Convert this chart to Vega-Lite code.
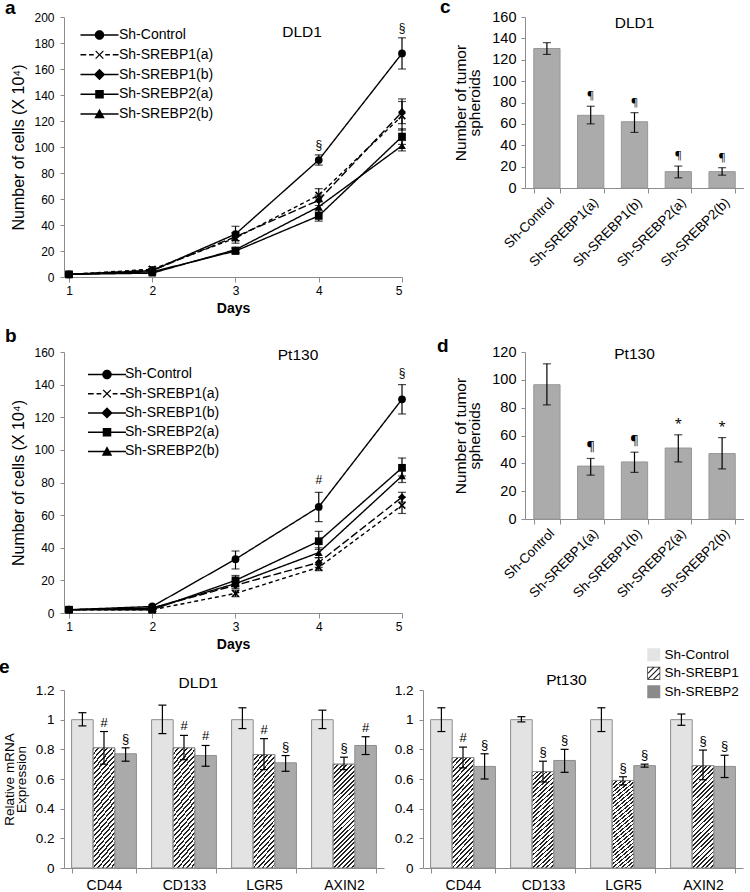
{
"$schema": "https://vega.github.io/schema/vega-lite/v6.json",
"padding": {"left": -1, "top": -2, "right": 0, "bottom": 0},
"config": {
  "font": "Liberation Sans",
  "view": {"stroke": null},
  "axis": {"domainColor": "#8c8c8c", "tickColor": "#8c8c8c", "labelColor": "#000", "titleColor": "#000", "grid": false, "titleFontWeight": "normal", "labelOverlap": false},
  "title": {"fontSize": 19, "fontWeight": "bold", "anchor": "start", "frame": "group", "color": "#000"},
  "legend": {"labelColor": "#000"},
  "text": {"color": "#000"}
},
"resolve": {"scale": {"fill": "independent", "shape": "independent", "strokeDash": "independent"}},
"vconcat": [
 {"vconcat": [
  {"hconcat": [
   {
    "width": 338, "height": 260,
    "title": {"text": "DLD1", "anchor": "middle", "dx": 69, "offset": -29, "fontSize": 15.5, "fontWeight": "normal"},
    "data": {"values": [
      {"s":"Sh-Control","d":1,"v":2,"lo":1,"hi":3},
      {"s":"Sh-Control","d":2,"v":5,"lo":4,"hi":6},
      {"s":"Sh-Control","d":3,"v":33,"lo":28,"hi":39},
      {"s":"Sh-Control","d":4,"v":90,"lo":86,"hi":94,"sig":"§"},
      {"s":"Sh-Control","d":5,"v":172,"lo":160,"hi":184,"sig":"§"},
      {"s":"Sh-SREBP1(a)","d":1,"v":2,"lo":1,"hi":3},
      {"s":"Sh-SREBP1(a)","d":2,"v":6,"lo":4,"hi":8},
      {"s":"Sh-SREBP1(a)","d":3,"v":30,"lo":26,"hi":34},
      {"s":"Sh-SREBP1(a)","d":4,"v":63,"lo":58,"hi":68},
      {"s":"Sh-SREBP1(a)","d":5,"v":124,"lo":113,"hi":135},
      {"s":"Sh-SREBP1(b)","d":1,"v":2,"lo":1,"hi":3},
      {"s":"Sh-SREBP1(b)","d":2,"v":5,"lo":4,"hi":6},
      {"s":"Sh-SREBP1(b)","d":3,"v":31,"lo":28,"hi":34},
      {"s":"Sh-SREBP1(b)","d":4,"v":59,"lo":55,"hi":63},
      {"s":"Sh-SREBP1(b)","d":5,"v":127,"lo":118,"hi":137},
      {"s":"Sh-SREBP2(a)","d":1,"v":2,"lo":1,"hi":3},
      {"s":"Sh-SREBP2(a)","d":2,"v":4,"lo":3,"hi":5},
      {"s":"Sh-SREBP2(a)","d":3,"v":20,"lo":18,"hi":22},
      {"s":"Sh-SREBP2(a)","d":4,"v":47,"lo":43,"hi":51},
      {"s":"Sh-SREBP2(a)","d":5,"v":108,"lo":102,"hi":114},
      {"s":"Sh-SREBP2(b)","d":1,"v":2,"lo":1,"hi":3},
      {"s":"Sh-SREBP2(b)","d":2,"v":3,"lo":2,"hi":4},
      {"s":"Sh-SREBP2(b)","d":3,"v":21,"lo":19,"hi":23},
      {"s":"Sh-SREBP2(b)","d":4,"v":54,"lo":50,"hi":58},
      {"s":"Sh-SREBP2(b)","d":5,"v":101,"lo":97,"hi":105}
    ]},
    "encoding": {
      "x": {"field": "d", "type": "quantitative", "scale": {"domain": [0.94, 5], "nice": false, "zero": false},
            "axis": {"values": [1,2,3,4,5], "format": "d", "title": "Days", "titleFontWeight": "bold", "titleFontSize": 14, "labelFontSize": 12, "tickSize": 5, "labelPadding": 3, "titlePadding": 5}}
    },
    "layer": [
      {"mark": {"type": "errorbar", "color": "#000", "thickness": 1.2, "ticks": {"size": 8, "thickness": 1.2}},
       "encoding": {
        "y": {"field": "lo", "type": "quantitative", "scale": {"domain": [0, 200], "nice": false}, "title": "Number of cells (X 10⁴)",
              "axis": {"values": [0,20,40,60,80,100,120,140,160,180,200], "labelOverlap": false, "labelFontSize": 12, "tickSize": 4, "labelPadding": 6, "titlePadding": 7, "titleFontSize": 16}},
        "y2": {"field": "hi"}}},
      {"mark": {"type": "line", "color": "#000", "strokeWidth": 1.4},
       "encoding": {
        "y": {"field": "v", "type": "quantitative", "scale": {"domain": [0, 200], "nice": false}, "title": "Number of cells (X 10⁴)",
              "axis": {"values": [0,20,40,60,80,100,120,140,160,180,200], "labelOverlap": false, "labelFontSize": 12, "tickSize": 4, "labelPadding": 6, "titlePadding": 7, "titleFontSize": 16}},
        "strokeDash": {"field": "s", "type": "nominal", "scale": {"domain": ["Sh-Control","Sh-SREBP1(a)","Sh-SREBP1(b)","Sh-SREBP2(a)","Sh-SREBP2(b)"], "range": [[1,0],[4,3],[8,3],[1,0],[1,0]]}, "legend": null}}},
      {"mark": {"type": "point", "filled": true, "color": "#000", "opacity": 1, "size": 60},
       "encoding": {
        "y": {"field": "v", "type": "quantitative", "scale": {"domain": [0, 200], "nice": false}, "title": "Number of cells (X 10⁴)",
              "axis": {"values": [0,20,40,60,80,100,120,140,160,180,200], "labelOverlap": false, "labelFontSize": 12, "tickSize": 4, "labelPadding": 6, "titlePadding": 7, "titleFontSize": 16}},
        "shape": {"field": "s", "type": "nominal", "scale": {"domain": ["Sh-Control","Sh-SREBP1(a)","Sh-SREBP1(b)","Sh-SREBP2(a)","Sh-SREBP2(b)"], "range": ["circle","M-0.7,-1L0,-0.3L0.7,-1L1,-0.7L0.3,0L1,0.7L0.7,1L0,0.3L-0.7,1L-1,0.7L-0.3,0L-1,-0.7Z","diamond","square","triangle-up"]}, "legend": null}}},
      {"transform": [{"filter": "datum.sig"}],
       "mark": {"type": "text", "fontSize": 12, "dy": -6, "baseline": "alphabetic"},
       "encoding": {
        "y": {"field": "hi", "type": "quantitative", "scale": {"domain": [0, 200], "nice": false}, "title": "Number of cells (X 10⁴)",
              "axis": {"values": [0,20,40,60,80,100,120,140,160,180,200], "labelOverlap": false, "labelFontSize": 12, "tickSize": 4, "labelPadding": 6, "titlePadding": 7, "titleFontSize": 16}},
        "text": {"field": "sig"}}},
      {"data": {"values": []},
       "mark": {"type": "point", "filled": true, "color": "#000", "opacity": 1},
       "encoding": {
        "shape": {"field": "s", "type": "nominal",
          "scale": {"domain": ["Sh-Control","Sh-SREBP1(a)","Sh-SREBP1(b)","Sh-SREBP2(a)","Sh-SREBP2(b)"],
            "range": [
              "M-2,-0.08L2,-0.08L2,0.08L-2,0.08ZM-0.5,0A0.5,0.5 0 1,1 0.5,0A0.5,0.5 0 1,1 -0.5,0Z",
              "M-2,-0.08L-1.4,-0.08L-1.4,0.08L-2,0.08ZM-1.1,-0.08L-0.6,-0.08L-0.6,0.08L-1.1,0.08ZM0.6,-0.08L1.1,-0.08L1.1,0.08L0.6,0.08ZM1.4,-0.08L2,-0.08L2,0.08L1.4,0.08ZM-0.36,-0.45L0,-0.09L0.36,-0.45L0.45,-0.36L0.09,0L0.45,0.36L0.36,0.45L0,0.09L-0.36,0.45L-0.45,0.36L-0.09,0L-0.45,-0.36Z",
              "M-2,-0.08L2,-0.08L2,0.08L-2,0.08ZM0,-0.6L0.6,0L0,0.6L-0.6,0Z",
              "M-2,-0.08L2,-0.08L2,0.08L-2,0.08ZM-0.45,-0.45L0.45,-0.45L0.45,0.45L-0.45,0.45Z",
              "M-2,-0.08L2,-0.08L2,0.08L-2,0.08ZM0,-0.55L0.55,0.45L-0.55,0.45Z"
            ]},
          "legend": {"orient": "none", "legendX": 26, "legendY": 8.5, "title": null, "padding": 0, "symbolSize": 361, "symbolFillColor": "#000", "symbolStrokeWidth": 0, "symbolOpacity": 1, "labelFontSize": 14, "labelOffset": 10, "rowPadding": 2.75}}}}
    ],
    "resolve": {"scale": {"shape": "independent"}}
   },
   {
    "width": 219, "height": 171,
    "title": {"text": "c", "dx": -85, "offset": -8},
    "data": {"values": [
      {"n":"Sh-Control","v":130.5,"lo":125,"hi":136},
      {"n":"Sh-SREBP1(a)","v":68,"lo":60,"hi":76.5,"sig":"¶"},
      {"n":"Sh-SREBP1(b)","v":62,"lo":52,"hi":70.5,"sig":"¶"},
      {"n":"Sh-SREBP2(a)","v":15.3,"lo":9.5,"hi":20.5,"sig":"¶"},
      {"n":"Sh-SREBP2(b)","v":15.3,"lo":12,"hi":19,"sig":"¶"}
    ]},
    "encoding": {
      "x": {"field": "n", "type": "nominal", "sort": null, "scale": {"paddingInner": 0.4, "paddingOuter": 0.2},
            "axis": {"labelAngle": -45, "labelFontSize": 13.5, "tickSize": 5, "tickBand": "extent", "title": null, "labelPadding": 2}}
    },
    "layer": [
      {"mark": {"type": "bar", "color": "#ababab", "stroke": "#979797", "strokeWidth": 1},
       "encoding": {"y": {"field": "v", "type": "quantitative", "scale": {"domain": [0, 160], "nice": false}, "title": ["Number of tumor", "spheroids"],
          "axis": {"values": [0,20,40,60,80,100,120,140,160], "labelOverlap": false, "labelFontSize": 14.5, "tickSize": 4, "labelPadding": 5, "titlePadding": 9, "titleFontSize": 15.5, "titleLineHeight": 14}}}},
      {"mark": {"type": "errorbar", "color": "#000", "thickness": 1.2, "ticks": {"size": 8, "thickness": 1.2}},
       "encoding": {"y": {"field": "lo", "type": "quantitative", "scale": {"domain": [0, 160], "nice": false}, "title": ["Number of tumor", "spheroids"],
          "axis": {"values": [0,20,40,60,80,100,120,140,160], "labelOverlap": false, "labelFontSize": 14.5, "tickSize": 4, "labelPadding": 5, "titlePadding": 9, "titleFontSize": 15.5, "titleLineHeight": 14}}, "y2": {"field": "hi"}}},
      {"transform": [{"filter": "datum.sig"}],
       "mark": {"type": "text", "fontSize": 11, "dy": -7, "baseline": "alphabetic", "font": "Noto Sans", "color": "#000", "fill": "#000"},
       "encoding": {"y": {"field": "hi", "type": "quantitative", "scale": {"domain": [0, 160], "nice": false}, "title": ["Number of tumor", "spheroids"],
          "axis": {"values": [0,20,40,60,80,100,120,140,160], "labelOverlap": false, "labelFontSize": 14.5, "tickSize": 4, "labelPadding": 5, "titlePadding": 9, "titleFontSize": 15.5, "titleLineHeight": 14}}, "text": {"field": "sig"}}},
      {"data": {"values": [{"t": "DLD1"}]},
       "mark": {"type": "text", "fontSize": 15.5},
       "encoding": {"x": {"datum": "Sh-SREBP1(b)"}, "y": {"datum": 154.4, "type": "quantitative", "scale": {"domain": [0, 160], "nice": false}, "title": ["Number of tumor", "spheroids"],
          "axis": {"values": [0,20,40,60,80,100,120,140,160], "labelOverlap": false, "labelFontSize": 14.5, "tickSize": 4, "labelPadding": 5, "titlePadding": 9, "titleFontSize": 15.5, "titleLineHeight": 14}}, "text": {"field": "t"}}}
    ]
   }
  ], "spacing": 123, "bounds": "flush", "title": {"text": "a", "dx": -59, "offset": -20},
  "resolve": {"scale": {"fill": "independent", "shape": "independent", "strokeDash": "independent"}}},
  {"hconcat": [
   {
    "width": 338, "height": 261,
    "title": {"text": "Pt130", "anchor": "middle", "dx": 65, "offset": -17.5, "fontSize": 15.5, "fontWeight": "normal"},
    "data": {"values": [
      {"s":"Sh-Control","d":1,"v":2,"lo":1,"hi":3},
      {"s":"Sh-Control","d":2,"v":4,"lo":3,"hi":5},
      {"s":"Sh-Control","d":3,"v":33,"lo":27,"hi":38},
      {"s":"Sh-Control","d":4,"v":65,"lo":56,"hi":74,"sig":"#"},
      {"s":"Sh-Control","d":5,"v":131,"lo":122,"hi":140,"sig":"§"},
      {"s":"Sh-SREBP1(a)","d":1,"v":2,"lo":1,"hi":3},
      {"s":"Sh-SREBP1(a)","d":2,"v":2,"lo":1,"hi":3},
      {"s":"Sh-SREBP1(a)","d":3,"v":12,"lo":10,"hi":14},
      {"s":"Sh-SREBP1(a)","d":4,"v":28,"lo":26,"hi":30},
      {"s":"Sh-SREBP1(a)","d":5,"v":66,"lo":61,"hi":71},
      {"s":"Sh-SREBP1(b)","d":1,"v":2,"lo":1,"hi":3},
      {"s":"Sh-SREBP1(b)","d":2,"v":3,"lo":2,"hi":4},
      {"s":"Sh-SREBP1(b)","d":3,"v":17,"lo":15,"hi":19},
      {"s":"Sh-SREBP1(b)","d":4,"v":31,"lo":28,"hi":34},
      {"s":"Sh-SREBP1(b)","d":5,"v":71,"lo":68,"hi":74},
      {"s":"Sh-SREBP2(a)","d":1,"v":2,"lo":1,"hi":3},
      {"s":"Sh-SREBP2(a)","d":2,"v":2,"lo":1,"hi":3},
      {"s":"Sh-SREBP2(a)","d":3,"v":20,"lo":17,"hi":23},
      {"s":"Sh-SREBP2(a)","d":4,"v":44,"lo":39,"hi":50},
      {"s":"Sh-SREBP2(a)","d":5,"v":89,"lo":84,"hi":95},
      {"s":"Sh-SREBP2(b)","d":1,"v":2,"lo":1,"hi":3},
      {"s":"Sh-SREBP2(b)","d":2,"v":3,"lo":2,"hi":4},
      {"s":"Sh-SREBP2(b)","d":3,"v":18,"lo":16,"hi":20},
      {"s":"Sh-SREBP2(b)","d":4,"v":37,"lo":34,"hi":40},
      {"s":"Sh-SREBP2(b)","d":5,"v":84,"lo":80,"hi":88}
    ]},
    "encoding": {
      "x": {"field": "d", "type": "quantitative", "scale": {"domain": [0.94, 5], "nice": false, "zero": false},
            "axis": {"values": [1,2,3,4,5], "format": "d", "title": "Days", "titleFontWeight": "bold", "titleFontSize": 14, "labelFontSize": 12, "tickSize": 5, "labelPadding": 3, "titlePadding": 5}}
    },
    "layer": [
      {"mark": {"type": "errorbar", "color": "#000", "thickness": 1.2, "ticks": {"size": 8, "thickness": 1.2}},
       "encoding": {
        "y": {"field": "lo", "type": "quantitative", "scale": {"domain": [0, 160], "nice": false}, "title": "Number of cells (X 10⁴)",
              "axis": {"values": [0,20,40,60,80,100,120,140,160], "labelOverlap": false, "labelFontSize": 12, "tickSize": 4, "labelPadding": 6, "titlePadding": 7, "titleFontSize": 16}},
        "y2": {"field": "hi"}}},
      {"mark": {"type": "line", "color": "#000", "strokeWidth": 1.4},
       "encoding": {
        "y": {"field": "v", "type": "quantitative", "scale": {"domain": [0, 160], "nice": false}, "title": "Number of cells (X 10⁴)",
              "axis": {"values": [0,20,40,60,80,100,120,140,160], "labelOverlap": false, "labelFontSize": 12, "tickSize": 4, "labelPadding": 6, "titlePadding": 7, "titleFontSize": 16}},
        "strokeDash": {"field": "s", "type": "nominal", "scale": {"domain": ["Sh-Control","Sh-SREBP1(a)","Sh-SREBP1(b)","Sh-SREBP2(a)","Sh-SREBP2(b)"], "range": [[1,0],[4,3],[8,3],[1,0],[1,0]]}, "legend": null}}},
      {"mark": {"type": "point", "filled": true, "color": "#000", "opacity": 1, "size": 60},
       "encoding": {
        "y": {"field": "v", "type": "quantitative", "scale": {"domain": [0, 160], "nice": false}, "title": "Number of cells (X 10⁴)",
              "axis": {"values": [0,20,40,60,80,100,120,140,160], "labelOverlap": false, "labelFontSize": 12, "tickSize": 4, "labelPadding": 6, "titlePadding": 7, "titleFontSize": 16}},
        "shape": {"field": "s", "type": "nominal", "scale": {"domain": ["Sh-Control","Sh-SREBP1(a)","Sh-SREBP1(b)","Sh-SREBP2(a)","Sh-SREBP2(b)"], "range": ["circle","M-0.7,-1L0,-0.3L0.7,-1L1,-0.7L0.3,0L1,0.7L0.7,1L0,0.3L-0.7,1L-1,0.7L-0.3,0L-1,-0.7Z","diamond","square","triangle-up"]}, "legend": null}}},
      {"transform": [{"filter": "datum.sig"}],
       "mark": {"type": "text", "fontSize": 12, "dy": -8, "baseline": "alphabetic"},
       "encoding": {
        "y": {"field": "hi", "type": "quantitative", "scale": {"domain": [0, 160], "nice": false}, "title": "Number of cells (X 10⁴)",
              "axis": {"values": [0,20,40,60,80,100,120,140,160], "labelOverlap": false, "labelFontSize": 12, "tickSize": 4, "labelPadding": 6, "titlePadding": 7, "titleFontSize": 16}},
        "text": {"field": "sig"}}},
      {"data": {"values": []},
       "mark": {"type": "point", "filled": true, "color": "#000", "opacity": 1},
       "encoding": {
        "shape": {"field": "s", "type": "nominal",
          "scale": {"domain": ["Sh-Control","Sh-SREBP1(a)","Sh-SREBP1(b)","Sh-SREBP2(a)","Sh-SREBP2(b)"],
            "range": [
              "M-2,-0.08L2,-0.08L2,0.08L-2,0.08ZM-0.5,0A0.5,0.5 0 1,1 0.5,0A0.5,0.5 0 1,1 -0.5,0Z",
              "M-2,-0.08L-1.4,-0.08L-1.4,0.08L-2,0.08ZM-1.1,-0.08L-0.6,-0.08L-0.6,0.08L-1.1,0.08ZM0.6,-0.08L1.1,-0.08L1.1,0.08L0.6,0.08ZM1.4,-0.08L2,-0.08L2,0.08L1.4,0.08ZM-0.36,-0.45L0,-0.09L0.36,-0.45L0.45,-0.36L0.09,0L0.45,0.36L0.36,0.45L0,0.09L-0.36,0.45L-0.45,0.36L-0.09,0L-0.45,-0.36Z",
              "M-2,-0.08L2,-0.08L2,0.08L-2,0.08ZM0,-0.6L0.6,0L0,0.6L-0.6,0Z",
              "M-2,-0.08L2,-0.08L2,0.08L-2,0.08ZM-0.45,-0.45L0.45,-0.45L0.45,0.45L-0.45,0.45Z",
              "M-2,-0.08L2,-0.08L2,0.08L-2,0.08ZM0,-0.55L0.55,0.45L-0.55,0.45Z"
            ]},
          "legend": {"orient": "none", "legendX": 33.5, "legendY": 12.9, "title": null, "padding": 0, "symbolSize": 361, "symbolFillColor": "#000", "symbolStrokeWidth": 0, "symbolOpacity": 1, "labelFontSize": 14, "labelOffset": 8.5, "rowPadding": 2.25}}}}
    ],
    "resolve": {"scale": {"shape": "independent"}}
   },
   {
    "width": 219, "height": 167,
    "title": {"text": "d", "dx": -88, "offset": -12},
    "data": {"values": [
      {"n":"Sh-Control","v":96.5,"lo":82,"hi":111.5},
      {"n":"Sh-SREBP1(a)","v":38,"lo":31.5,"hi":43.5,"sig":"¶"},
      {"n":"Sh-SREBP1(b)","v":41,"lo":33.5,"hi":48,"sig":"¶"},
      {"n":"Sh-SREBP2(a)","v":51,"lo":41,"hi":60.5,"sig":"*"},
      {"n":"Sh-SREBP2(b)","v":47,"lo":36,"hi":58.5,"sig":"*"}
    ]},
    "encoding": {
      "x": {"field": "n", "type": "nominal", "sort": null, "scale": {"paddingInner": 0.4, "paddingOuter": 0.2},
            "axis": {"labelAngle": -45, "labelFontSize": 13.5, "tickSize": 5, "tickBand": "extent", "title": null, "labelPadding": 2}}
    },
    "layer": [
      {"mark": {"type": "bar", "color": "#ababab", "stroke": "#979797", "strokeWidth": 1},
       "encoding": {"y": {"field": "v", "type": "quantitative", "scale": {"domain": [0, 120], "nice": false}, "title": ["Number of tumor", "spheroids"],
          "axis": {"values": [0,20,40,60,80,100,120], "labelOverlap": false, "labelFontSize": 14.5, "tickSize": 4, "labelPadding": 5, "titlePadding": 9, "titleFontSize": 15.5, "titleLineHeight": 14}}}},
      {"mark": {"type": "errorbar", "color": "#000", "thickness": 1.2, "ticks": {"size": 8, "thickness": 1.2}},
       "encoding": {"y": {"field": "lo", "type": "quantitative", "scale": {"domain": [0, 120], "nice": false}, "title": ["Number of tumor", "spheroids"],
          "axis": {"values": [0,20,40,60,80,100,120], "labelOverlap": false, "labelFontSize": 14.5, "tickSize": 4, "labelPadding": 5, "titlePadding": 9, "titleFontSize": 15.5, "titleLineHeight": 14}}, "y2": {"field": "hi"}}},
      {"transform": [{"filter": "datum.sig"}],
       "mark": {"type": "text", "fontSize": 13, "dy": -7, "baseline": "alphabetic", "font": "Noto Sans", "color": "#000", "fill": "#000"},
       "encoding": {"y": {"field": "hi", "type": "quantitative", "scale": {"domain": [0, 120], "nice": false}, "title": ["Number of tumor", "spheroids"],
          "axis": {"values": [0,20,40,60,80,100,120], "labelOverlap": false, "labelFontSize": 14.5, "tickSize": 4, "labelPadding": 5, "titlePadding": 9, "titleFontSize": 15.5, "titleLineHeight": 14}}, "text": {"field": "sig"}}},
      {"data": {"values": [{"t": "Pt130"}]},
       "mark": {"type": "text", "fontSize": 15.5},
       "encoding": {"x": {"datum": "Sh-SREBP1(b)"}, "y": {"datum": 118.5, "type": "quantitative", "scale": {"domain": [0, 120], "nice": false}, "title": ["Number of tumor", "spheroids"],
          "axis": {"values": [0,20,40,60,80,100,120], "labelOverlap": false, "labelFontSize": 14.5, "tickSize": 4, "labelPadding": 5, "titlePadding": 9, "titleFontSize": 15.5, "titleLineHeight": 14}}, "text": {"field": "t"}}}
    ]
   }
  ], "spacing": 123, "bounds": "flush", "title": {"text": "b", "dx": -59, "offset": -9},
  "resolve": {"scale": {"fill": "independent", "shape": "independent", "strokeDash": "independent"}}}
 ], "spacing": 12,
 "resolve": {"scale": {"fill": "independent", "shape": "independent", "strokeDash": "independent"}}},
 {"hconcat": [
   {
    "width": 320, "height": 178,
    "title": {"text": "e", "dx": -65, "offset": -1},
    "data": {"values": [
      {"g":"CD44","grp":"Sh-Control","v":1,"lo":0.958,"hi":1.047},
      {"g":"CD44","grp":"Sh-SREBP1","v":0.81,"lo":0.70,"hi":0.92,"sig":"#"},
      {"g":"CD44","grp":"Sh-SREBP2","v":0.77,"lo":0.72,"hi":0.81,"sig":"§"},
      {"g":"CD133","grp":"Sh-Control","v":1,"lo":0.906,"hi":1.098},
      {"g":"CD133","grp":"Sh-SREBP1","v":0.81,"lo":0.73,"hi":0.894,"sig":"#"},
      {"g":"CD133","grp":"Sh-SREBP2","v":0.758,"lo":0.686,"hi":0.826,"sig":"#"},
      {"g":"LGR5","grp":"Sh-Control","v":1,"lo":0.94,"hi":1.08},
      {"g":"LGR5","grp":"Sh-SREBP1","v":0.765,"lo":0.663,"hi":0.872,"sig":"#"},
      {"g":"LGR5","grp":"Sh-SREBP2","v":0.709,"lo":0.652,"hi":0.758,"sig":"§"},
      {"g":"AXIN2","grp":"Sh-Control","v":1,"lo":0.94,"hi":1.064},
      {"g":"AXIN2","grp":"Sh-SREBP1","v":0.70,"lo":0.663,"hi":0.747,"sig":"§"},
      {"g":"AXIN2","grp":"Sh-SREBP2","v":0.826,"lo":0.765,"hi":0.885,"sig":"#"}
    ]},
    "encoding": {
      "x": {"field": "g", "type": "nominal", "sort": null, "scale": {"paddingInner": 0.19, "paddingOuter": 0.095},
            "axis": {"labelAngle": 0, "labelFontSize": 14, "tickSize": 5, "tickBand": "extent", "title": null, "labelPadding": 5}}
    },
    "layer": [
      {"mark": {"type": "bar", "stroke": "#8c8c8c", "strokeWidth": 1},
       "encoding": {
        "xOffset": {"field": "grp", "type": "nominal", "scale": {"domain": ["Sh-Control","Sh-SREBP1","Sh-SREBP2"], "paddingInner": 0, "paddingOuter": 0}},
        "y": {"field": "v", "type": "quantitative", "scale": {"domain": [0, 1.2], "nice": false}, "title": ["Relative  mRNA", "Expression"],
          "axis": {"values": [0,0.2,0.4,0.6,0.8,1,1.2], "format": "~g", "labelOverlap": false, "labelFontSize": 13.5, "tickSize": 4, "labelPadding": 6, "titlePadding": 7, "titleFontSize": 13.5, "titleLineHeight": 11.5}},
        "fill": {"condition": {"test": "datum.grp == 'Sh-Control'", "value": "#e3e3e3"}, "value": "#aaaaaa"}}},
      {"transform": [{"filter": "datum.grp == 'Sh-SREBP1'"}],
       "mark": {"type": "bar", "stroke": "#8c8c8c", "strokeWidth": 1,
         "fill": {"gradient": "linear", "x1": 0, "y1": 0, "x2": 0.239, "y2": 1.157, "stops": [
{"offset":0,"color":"#222"},{"offset":0.0143,"color":"#222"},{"offset":0.0143,"color":"#fff"},{"offset":0.0357,"color":"#fff"},
{"offset":0.0357,"color":"#222"},{"offset":0.05,"color":"#222"},{"offset":0.05,"color":"#fff"},{"offset":0.0714,"color":"#fff"},
{"offset":0.0714,"color":"#222"},{"offset":0.0857,"color":"#222"},{"offset":0.0857,"color":"#fff"},{"offset":0.1071,"color":"#fff"},
{"offset":0.1071,"color":"#222"},{"offset":0.1214,"color":"#222"},{"offset":0.1214,"color":"#fff"},{"offset":0.1429,"color":"#fff"},
{"offset":0.1429,"color":"#222"},{"offset":0.1572,"color":"#222"},{"offset":0.1572,"color":"#fff"},{"offset":0.1786,"color":"#fff"},
{"offset":0.1786,"color":"#222"},{"offset":0.1929,"color":"#222"},{"offset":0.1929,"color":"#fff"},{"offset":0.2143,"color":"#fff"},
{"offset":0.2143,"color":"#222"},{"offset":0.2286,"color":"#222"},{"offset":0.2286,"color":"#fff"},{"offset":0.25,"color":"#fff"},
{"offset":0.25,"color":"#222"},{"offset":0.2643,"color":"#222"},{"offset":0.2643,"color":"#fff"},{"offset":0.2857,"color":"#fff"},
{"offset":0.2857,"color":"#222"},{"offset":0.3,"color":"#222"},{"offset":0.3,"color":"#fff"},{"offset":0.3214,"color":"#fff"},
{"offset":0.3214,"color":"#222"},{"offset":0.3357,"color":"#222"},{"offset":0.3357,"color":"#fff"},{"offset":0.3571,"color":"#fff"},
{"offset":0.3571,"color":"#222"},{"offset":0.3714,"color":"#222"},{"offset":0.3714,"color":"#fff"},{"offset":0.3929,"color":"#fff"},
{"offset":0.3929,"color":"#222"},{"offset":0.4072,"color":"#222"},{"offset":0.4072,"color":"#fff"},{"offset":0.4286,"color":"#fff"},
{"offset":0.4286,"color":"#222"},{"offset":0.4429,"color":"#222"},{"offset":0.4429,"color":"#fff"},{"offset":0.4643,"color":"#fff"},
{"offset":0.4643,"color":"#222"},{"offset":0.4786,"color":"#222"},{"offset":0.4786,"color":"#fff"},{"offset":0.5,"color":"#fff"},
{"offset":0.5,"color":"#222"},{"offset":0.5143,"color":"#222"},{"offset":0.5143,"color":"#fff"},{"offset":0.5357,"color":"#fff"},
{"offset":0.5357,"color":"#222"},{"offset":0.55,"color":"#222"},{"offset":0.55,"color":"#fff"},{"offset":0.5714,"color":"#fff"},
{"offset":0.5714,"color":"#222"},{"offset":0.5857,"color":"#222"},{"offset":0.5857,"color":"#fff"},{"offset":0.6071,"color":"#fff"},
{"offset":0.6071,"color":"#222"},{"offset":0.6214,"color":"#222"},{"offset":0.6214,"color":"#fff"},{"offset":0.6429,"color":"#fff"},
{"offset":0.6429,"color":"#222"},{"offset":0.6572,"color":"#222"},{"offset":0.6572,"color":"#fff"},{"offset":0.6786,"color":"#fff"},
{"offset":0.6786,"color":"#222"},{"offset":0.6929,"color":"#222"},{"offset":0.6929,"color":"#fff"},{"offset":0.7143,"color":"#fff"},
{"offset":0.7143,"color":"#222"},{"offset":0.7286,"color":"#222"},{"offset":0.7286,"color":"#fff"},{"offset":0.75,"color":"#fff"},
{"offset":0.75,"color":"#222"},{"offset":0.7643,"color":"#222"},{"offset":0.7643,"color":"#fff"},{"offset":0.7857,"color":"#fff"},
{"offset":0.7857,"color":"#222"},{"offset":0.8,"color":"#222"},{"offset":0.8,"color":"#fff"},{"offset":0.8214,"color":"#fff"},
{"offset":0.8214,"color":"#222"},{"offset":0.8357,"color":"#222"},{"offset":0.8357,"color":"#fff"},{"offset":0.8571,"color":"#fff"},
{"offset":0.8571,"color":"#222"},{"offset":0.8714,"color":"#222"},{"offset":0.8714,"color":"#fff"},{"offset":0.8929,"color":"#fff"},
{"offset":0.8929,"color":"#222"},{"offset":0.9072,"color":"#222"},{"offset":0.9072,"color":"#fff"},{"offset":0.9286,"color":"#fff"},
{"offset":0.9286,"color":"#222"},{"offset":0.9429,"color":"#222"},{"offset":0.9429,"color":"#fff"},{"offset":0.9643,"color":"#fff"},
{"offset":0.9643,"color":"#222"},{"offset":0.9786,"color":"#222"},{"offset":0.9786,"color":"#fff"},{"offset":1,"color":"#fff"}
         ]}},
       "encoding": {
        "xOffset": {"field": "grp", "type": "nominal", "scale": {"domain": ["Sh-Control","Sh-SREBP1","Sh-SREBP2"], "paddingInner": 0, "paddingOuter": 0}},
        "y": {"field": "v", "type": "quantitative", "scale": {"domain": [0, 1.2], "nice": false}, "title": ["Relative  mRNA", "Expression"],
          "axis": {"values": [0,0.2,0.4,0.6,0.8,1,1.2], "format": "~g", "labelOverlap": false, "labelFontSize": 13.5, "tickSize": 4, "labelPadding": 6, "titlePadding": 7, "titleFontSize": 13.5, "titleLineHeight": 11.5}}}},
      {"mark": {"type": "rule", "color": "#000", "strokeWidth": 1.2},
       "encoding": {
        "xOffset": {"field": "grp", "type": "nominal", "scale": {"domain": ["Sh-Control","Sh-SREBP1","Sh-SREBP2"], "paddingInner": 0, "paddingOuter": 0}},
        "y": {"field": "lo", "type": "quantitative", "scale": {"domain": [0, 1.2], "nice": false}, "title": ["Relative  mRNA", "Expression"],
          "axis": {"values": [0,0.2,0.4,0.6,0.8,1,1.2], "format": "~g", "labelOverlap": false, "labelFontSize": 13.5, "tickSize": 4, "labelPadding": 6, "titlePadding": 7, "titleFontSize": 13.5, "titleLineHeight": 11.5}},
        "y2": {"field": "hi"}}},
      {"mark": {"type": "tick", "orient": "horizontal", "color": "#000", "thickness": 1.2, "opacity": 1},
       "encoding": {
        "xOffset": {"field": "grp", "type": "nominal", "scale": {"domain": ["Sh-Control","Sh-SREBP1","Sh-SREBP2"], "paddingInner": 0, "paddingOuter": 0}},
        "y": {"field": "lo", "type": "quantitative", "scale": {"domain": [0, 1.2], "nice": false}, "title": ["Relative  mRNA", "Expression"],
          "axis": {"values": [0,0.2,0.4,0.6,0.8,1,1.2], "format": "~g", "labelOverlap": false, "labelFontSize": 13.5, "tickSize": 4, "labelPadding": 6, "titlePadding": 7, "titleFontSize": 13.5, "titleLineHeight": 11.5}},
        "size": {"value": 8}}},
      {"mark": {"type": "tick", "orient": "horizontal", "color": "#000", "thickness": 1.2, "opacity": 1},
       "encoding": {
        "xOffset": {"field": "grp", "type": "nominal", "scale": {"domain": ["Sh-Control","Sh-SREBP1","Sh-SREBP2"], "paddingInner": 0, "paddingOuter": 0}},
        "y": {"field": "hi", "type": "quantitative", "scale": {"domain": [0, 1.2], "nice": false}, "title": ["Relative  mRNA", "Expression"],
          "axis": {"values": [0,0.2,0.4,0.6,0.8,1,1.2], "format": "~g", "labelOverlap": false, "labelFontSize": 13.5, "tickSize": 4, "labelPadding": 6, "titlePadding": 7, "titleFontSize": 13.5, "titleLineHeight": 11.5}},
        "size": {"value": 8}}},
      {"transform": [{"filter": "datum.sig"}],
       "mark": {"type": "text", "fontSize": 13, "dy": -5, "baseline": "alphabetic"},
       "encoding": {
        "xOffset": {"field": "grp", "type": "nominal", "scale": {"domain": ["Sh-Control","Sh-SREBP1","Sh-SREBP2"], "paddingInner": 0, "paddingOuter": 0}},
        "y": {"field": "hi", "type": "quantitative", "scale": {"domain": [0, 1.2], "nice": false}, "title": ["Relative  mRNA", "Expression"],
          "axis": {"values": [0,0.2,0.4,0.6,0.8,1,1.2], "format": "~g", "labelOverlap": false, "labelFontSize": 13.5, "tickSize": 4, "labelPadding": 6, "titlePadding": 7, "titleFontSize": 13.5, "titleLineHeight": 11.5}},
        "text": {"field": "sig"}}},
      {"data": {"values": [{"t": "DLD1"}]},
       "mark": {"type": "text", "fontSize": 15.5, "dx": -18},
       "encoding": {"x": {"datum": "CD133", "bandPosition": 1},
        "y": {"datum": 1.245, "type": "quantitative", "scale": {"domain": [0, 1.2], "nice": false}, "title": ["Relative  mRNA", "Expression"],
          "axis": {"values": [0,0.2,0.4,0.6,0.8,1,1.2], "format": "~g", "labelOverlap": false, "labelFontSize": 13.5, "tickSize": 4, "labelPadding": 6, "titlePadding": 7, "titleFontSize": 13.5, "titleLineHeight": 11.5}},
        "text": {"field": "t"}}}
    ]
   },
   {
    "width": 320, "height": 178,
    "data": {"values": [
      {"g":"CD44","grp":"Sh-Control","v":1,"lo":0.92,"hi":1.08},
      {"g":"CD44","grp":"Sh-SREBP1","v":0.745,"lo":0.675,"hi":0.815,"sig":"#"},
      {"g":"CD44","grp":"Sh-SREBP2","v":0.685,"lo":0.60,"hi":0.77,"sig":"§"},
      {"g":"CD133","grp":"Sh-Control","v":1,"lo":0.985,"hi":1.02},
      {"g":"CD133","grp":"Sh-SREBP1","v":0.65,"lo":0.58,"hi":0.72,"sig":"§"},
      {"g":"CD133","grp":"Sh-SREBP2","v":0.725,"lo":0.645,"hi":0.80,"sig":"§"},
      {"g":"LGR5","grp":"Sh-Control","v":1,"lo":0.92,"hi":1.08},
      {"g":"LGR5","grp":"Sh-SREBP1","v":0.59,"lo":0.56,"hi":0.615,"sig":"§"},
      {"g":"LGR5","grp":"Sh-SREBP2","v":0.69,"lo":0.68,"hi":0.70,"sig":"§"},
      {"g":"AXIN2","grp":"Sh-Control","v":1,"lo":0.962,"hi":1.038},
      {"g":"AXIN2","grp":"Sh-SREBP1","v":0.69,"lo":0.595,"hi":0.795,"sig":"§"},
      {"g":"AXIN2","grp":"Sh-SREBP2","v":0.685,"lo":0.61,"hi":0.76,"sig":"§"}
    ]},
    "encoding": {
      "x": {"field": "g", "type": "nominal", "sort": null, "scale": {"paddingInner": 0.19, "paddingOuter": 0.095},
            "axis": {"labelAngle": 0, "labelFontSize": 14, "tickSize": 5, "tickBand": "extent", "title": null, "labelPadding": 5}}
    },
    "layer": [
      {"mark": {"type": "bar", "stroke": "#8c8c8c", "strokeWidth": 1},
       "encoding": {
        "xOffset": {"field": "grp", "type": "nominal", "scale": {"domain": ["Sh-Control","Sh-SREBP1","Sh-SREBP2"], "paddingInner": 0, "paddingOuter": 0}},
        "y": {"field": "v", "type": "quantitative", "scale": {"domain": [0, 1.2], "nice": false}, "title": null,
          "axis": {"values": [0,0.2,0.4,0.6,0.8,1,1.2], "format": "~g", "labelOverlap": false, "labelFontSize": 13.5, "tickSize": 4, "labelPadding": 6}},
        "fill": {"condition": {"test": "datum.grp == 'Sh-Control'", "value": "#e3e3e3"}, "value": "#aaaaaa"}}},
      {"transform": [{"filter": "datum.grp == 'Sh-SREBP1'"}],
       "mark": {"type": "bar", "stroke": "#8c8c8c", "strokeWidth": 1,
         "fill": {"gradient": "linear", "x1": 0, "y1": 0, "x2": 0.239, "y2": 1.157, "stops": [
{"offset":0,"color":"#222"},{"offset":0.0143,"color":"#222"},{"offset":0.0143,"color":"#fff"},{"offset":0.0357,"color":"#fff"},
{"offset":0.0357,"color":"#222"},{"offset":0.05,"color":"#222"},{"offset":0.05,"color":"#fff"},{"offset":0.0714,"color":"#fff"},
{"offset":0.0714,"color":"#222"},{"offset":0.0857,"color":"#222"},{"offset":0.0857,"color":"#fff"},{"offset":0.1071,"color":"#fff"},
{"offset":0.1071,"color":"#222"},{"offset":0.1214,"color":"#222"},{"offset":0.1214,"color":"#fff"},{"offset":0.1429,"color":"#fff"},
{"offset":0.1429,"color":"#222"},{"offset":0.1572,"color":"#222"},{"offset":0.1572,"color":"#fff"},{"offset":0.1786,"color":"#fff"},
{"offset":0.1786,"color":"#222"},{"offset":0.1929,"color":"#222"},{"offset":0.1929,"color":"#fff"},{"offset":0.2143,"color":"#fff"},
{"offset":0.2143,"color":"#222"},{"offset":0.2286,"color":"#222"},{"offset":0.2286,"color":"#fff"},{"offset":0.25,"color":"#fff"},
{"offset":0.25,"color":"#222"},{"offset":0.2643,"color":"#222"},{"offset":0.2643,"color":"#fff"},{"offset":0.2857,"color":"#fff"},
{"offset":0.2857,"color":"#222"},{"offset":0.3,"color":"#222"},{"offset":0.3,"color":"#fff"},{"offset":0.3214,"color":"#fff"},
{"offset":0.3214,"color":"#222"},{"offset":0.3357,"color":"#222"},{"offset":0.3357,"color":"#fff"},{"offset":0.3571,"color":"#fff"},
{"offset":0.3571,"color":"#222"},{"offset":0.3714,"color":"#222"},{"offset":0.3714,"color":"#fff"},{"offset":0.3929,"color":"#fff"},
{"offset":0.3929,"color":"#222"},{"offset":0.4072,"color":"#222"},{"offset":0.4072,"color":"#fff"},{"offset":0.4286,"color":"#fff"},
{"offset":0.4286,"color":"#222"},{"offset":0.4429,"color":"#222"},{"offset":0.4429,"color":"#fff"},{"offset":0.4643,"color":"#fff"},
{"offset":0.4643,"color":"#222"},{"offset":0.4786,"color":"#222"},{"offset":0.4786,"color":"#fff"},{"offset":0.5,"color":"#fff"},
{"offset":0.5,"color":"#222"},{"offset":0.5143,"color":"#222"},{"offset":0.5143,"color":"#fff"},{"offset":0.5357,"color":"#fff"},
{"offset":0.5357,"color":"#222"},{"offset":0.55,"color":"#222"},{"offset":0.55,"color":"#fff"},{"offset":0.5714,"color":"#fff"},
{"offset":0.5714,"color":"#222"},{"offset":0.5857,"color":"#222"},{"offset":0.5857,"color":"#fff"},{"offset":0.6071,"color":"#fff"},
{"offset":0.6071,"color":"#222"},{"offset":0.6214,"color":"#222"},{"offset":0.6214,"color":"#fff"},{"offset":0.6429,"color":"#fff"},
{"offset":0.6429,"color":"#222"},{"offset":0.6572,"color":"#222"},{"offset":0.6572,"color":"#fff"},{"offset":0.6786,"color":"#fff"},
{"offset":0.6786,"color":"#222"},{"offset":0.6929,"color":"#222"},{"offset":0.6929,"color":"#fff"},{"offset":0.7143,"color":"#fff"},
{"offset":0.7143,"color":"#222"},{"offset":0.7286,"color":"#222"},{"offset":0.7286,"color":"#fff"},{"offset":0.75,"color":"#fff"},
{"offset":0.75,"color":"#222"},{"offset":0.7643,"color":"#222"},{"offset":0.7643,"color":"#fff"},{"offset":0.7857,"color":"#fff"},
{"offset":0.7857,"color":"#222"},{"offset":0.8,"color":"#222"},{"offset":0.8,"color":"#fff"},{"offset":0.8214,"color":"#fff"},
{"offset":0.8214,"color":"#222"},{"offset":0.8357,"color":"#222"},{"offset":0.8357,"color":"#fff"},{"offset":0.8571,"color":"#fff"},
{"offset":0.8571,"color":"#222"},{"offset":0.8714,"color":"#222"},{"offset":0.8714,"color":"#fff"},{"offset":0.8929,"color":"#fff"},
{"offset":0.8929,"color":"#222"},{"offset":0.9072,"color":"#222"},{"offset":0.9072,"color":"#fff"},{"offset":0.9286,"color":"#fff"},
{"offset":0.9286,"color":"#222"},{"offset":0.9429,"color":"#222"},{"offset":0.9429,"color":"#fff"},{"offset":0.9643,"color":"#fff"},
{"offset":0.9643,"color":"#222"},{"offset":0.9786,"color":"#222"},{"offset":0.9786,"color":"#fff"},{"offset":1,"color":"#fff"}
         ]}},
       "encoding": {
        "xOffset": {"field": "grp", "type": "nominal", "scale": {"domain": ["Sh-Control","Sh-SREBP1","Sh-SREBP2"], "paddingInner": 0, "paddingOuter": 0}},
        "y": {"field": "v", "type": "quantitative", "scale": {"domain": [0, 1.2], "nice": false}, "title": null,
          "axis": {"values": [0,0.2,0.4,0.6,0.8,1,1.2], "format": "~g", "labelOverlap": false, "labelFontSize": 13.5, "tickSize": 4, "labelPadding": 6}}}},
      {"mark": {"type": "rule", "color": "#000", "strokeWidth": 1.2},
       "encoding": {
        "xOffset": {"field": "grp", "type": "nominal", "scale": {"domain": ["Sh-Control","Sh-SREBP1","Sh-SREBP2"], "paddingInner": 0, "paddingOuter": 0}},
        "y": {"field": "lo", "type": "quantitative", "scale": {"domain": [0, 1.2], "nice": false}, "title": null,
          "axis": {"values": [0,0.2,0.4,0.6,0.8,1,1.2], "format": "~g", "labelOverlap": false, "labelFontSize": 13.5, "tickSize": 4, "labelPadding": 6}},
        "y2": {"field": "hi"}}},
      {"mark": {"type": "tick", "orient": "horizontal", "color": "#000", "thickness": 1.2, "opacity": 1},
       "encoding": {
        "xOffset": {"field": "grp", "type": "nominal", "scale": {"domain": ["Sh-Control","Sh-SREBP1","Sh-SREBP2"], "paddingInner": 0, "paddingOuter": 0}},
        "y": {"field": "lo", "type": "quantitative", "scale": {"domain": [0, 1.2], "nice": false}, "title": null,
          "axis": {"values": [0,0.2,0.4,0.6,0.8,1,1.2], "format": "~g", "labelOverlap": false, "labelFontSize": 13.5, "tickSize": 4, "labelPadding": 6}},
        "size": {"value": 8}}},
      {"mark": {"type": "tick", "orient": "horizontal", "color": "#000", "thickness": 1.2, "opacity": 1},
       "encoding": {
        "xOffset": {"field": "grp", "type": "nominal", "scale": {"domain": ["Sh-Control","Sh-SREBP1","Sh-SREBP2"], "paddingInner": 0, "paddingOuter": 0}},
        "y": {"field": "hi", "type": "quantitative", "scale": {"domain": [0, 1.2], "nice": false}, "title": null,
          "axis": {"values": [0,0.2,0.4,0.6,0.8,1,1.2], "format": "~g", "labelOverlap": false, "labelFontSize": 13.5, "tickSize": 4, "labelPadding": 6}},
        "size": {"value": 8}}},
      {"transform": [{"filter": "datum.sig"}],
       "mark": {"type": "text", "fontSize": 13, "dy": -5, "baseline": "alphabetic"},
       "encoding": {
        "xOffset": {"field": "grp", "type": "nominal", "scale": {"domain": ["Sh-Control","Sh-SREBP1","Sh-SREBP2"], "paddingInner": 0, "paddingOuter": 0}},
        "y": {"field": "hi", "type": "quantitative", "scale": {"domain": [0, 1.2], "nice": false}, "title": null,
          "axis": {"values": [0,0.2,0.4,0.6,0.8,1,1.2], "format": "~g", "labelOverlap": false, "labelFontSize": 13.5, "tickSize": 4, "labelPadding": 6}},
        "text": {"field": "sig"}}},
      {"data": {"values": [{"t": "Pt130"}]},
       "mark": {"type": "text", "fontSize": 15.5, "dx": -9},
       "encoding": {"x": {"datum": "CD133", "bandPosition": 1},
        "y": {"datum": 1.265, "type": "quantitative", "scale": {"domain": [0, 1.2], "nice": false}, "title": null,
          "axis": {"values": [0,0.2,0.4,0.6,0.8,1,1.2], "format": "~g", "labelOverlap": false, "labelFontSize": 13.5, "tickSize": 4, "labelPadding": 6}},
        "text": {"field": "t"}}},
      {"data": {"values": []},
       "mark": {"type": "point", "filled": true, "opacity": 1},
       "encoding": {
        "fill": {"field": "grp", "type": "nominal",
          "scale": {"domain": ["Sh-Control","Sh-SREBP1","Sh-SREBP2"], "range": ["#e4e4e4", "#222222", "#8a8a8a"]},
          "legend": {"orient": "none", "legendX": 224, "legendY": -42, "title": null, "padding": 0, "symbolSize": 169, "symbolStrokeWidth": 0, "symbolOpacity": 1, "labelFontSize": 13.5, "labelOffset": 4, "rowPadding": 3.5}},
        "shape": {"field": "grp", "type": "nominal",
          "scale": {"domain": ["Sh-Control","Sh-SREBP1","Sh-SREBP2"],
            "range": ["square",
              "M-1,-1L1,-1L1,1L-1,1ZM-0.9,-0.9L-0.9,0.9L0.9,0.9L0.9,-0.9ZM-0.9,0.77L0.77,-0.9L0.9,-0.9L0.9,-0.77L-0.77,0.9L-0.9,0.9ZM-0.9,-0.13L-0.13,-0.9L0.13,-0.9L-0.9,0.13ZM0.9,-0.13L0.9,0.13L0.13,0.9L-0.13,0.9ZM-0.9,-0.9L-0.77,-0.9L-0.9,-0.77ZM0.9,0.9L0.77,0.9L0.9,0.77Z",
              "square"]},
          "legend": {"orient": "none", "legendX": 224, "legendY": -42, "title": null, "padding": 0, "symbolSize": 169, "symbolStrokeWidth": 0, "symbolOpacity": 1, "labelFontSize": 13.5, "labelOffset": 4, "rowPadding": 3.5}}}}
    ]
   }
 ], "spacing": 39, "bounds": "flush",
 "resolve": {"scale": {"fill": "independent", "shape": "independent", "strokeDash": "independent"}}}
],
"spacing": -3
}
